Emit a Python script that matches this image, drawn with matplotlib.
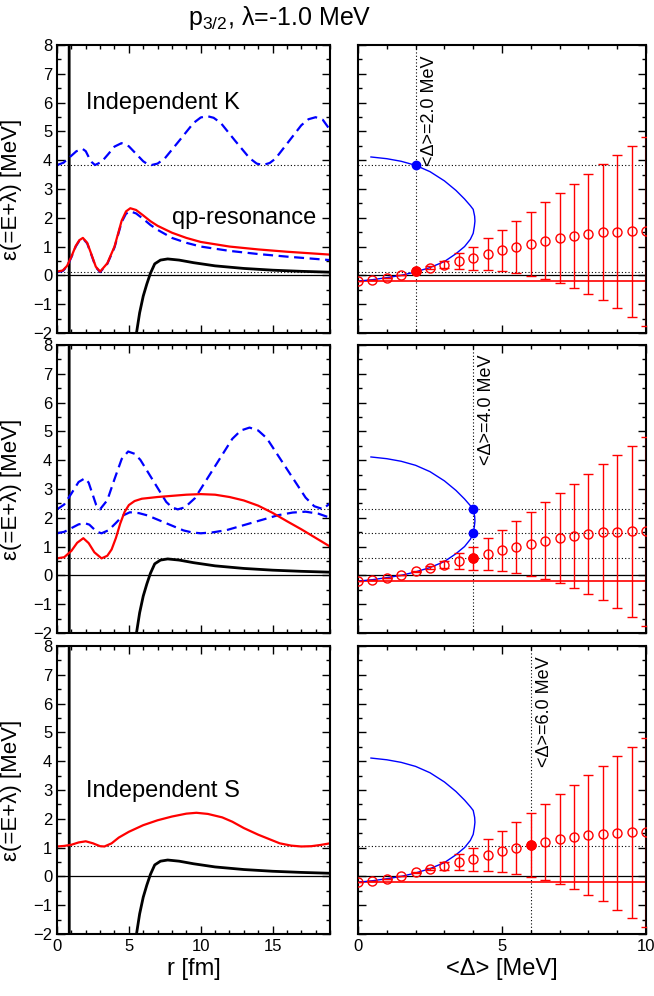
import matplotlib.pyplot as plt
from matplotlib.ticker import MultipleLocator

plt.rcParams['font.family'] = ['Liberation Sans', 'DejaVu Sans']
plt.rcParams['mathtext.fontset'] = 'custom'
plt.rcParams['mathtext.rm'] = 'Liberation Sans'
plt.rcParams['mathtext.it'] = 'Liberation Sans:italic'

# ---- left column: r-dependence ----
# potential (black), same in all three rows
r_pot = [0.83, 0.87, 5.3, 5.53, 5.75, 6.0, 6.25, 6.5, 6.8, 7.2, 7.7, 8.5, 9.5, 11, 13, 15, 17, 19]
v_pot = [30, -30, -4.5, -2.0, -1.3, -0.72, -0.3, 0.07, 0.4, 0.53, 0.57, 0.53, 0.44, 0.33, 0.24, 0.18, 0.14, 0.11]

# top row (Independent K / qp-resonance)
r_top_K = [0, 0.45, 0.9, 1.35, 1.78, 2.0, 2.2, 2.42, 2.64, 3.1, 3.55, 4.0, 4.49, 5.0, 5.5, 6.0, 6.3,
           6.58, 7.0, 7.5, 8.5, 9.5, 10.0, 10.44, 10.9, 11.4, 12.4, 13.4, 13.9, 14.33, 14.8, 15.2,
           16.1, 17.0, 17.5, 18.0, 18.5, 19.0]
v_top_K = [3.83, 3.91, 4.11, 4.31, 4.39, 4.31, 4.11, 3.93, 3.83, 3.94, 4.20, 4.47, 4.59, 4.48, 4.22, 3.96, 3.86,
           3.83, 3.88, 4.06, 4.67, 5.29, 5.48, 5.53, 5.47, 5.29, 4.67, 4.07, 3.88, 3.83, 3.90, 4.05,
           4.63, 5.21, 5.42, 5.49, 5.40, 5.05]
r_top_qp = [0, 0.4, 0.7, 1.0, 1.3, 1.55, 1.8, 2.1, 2.4, 2.7, 3.0, 3.5, 4.0, 4.5, 4.8, 5.1, 5.5, 6.0,
            6.5, 7.0, 8.0, 9.0, 10.0, 12.0, 14.0, 16.0, 19.0]
v_top_red = [0.13, 0.17, 0.33, 0.65, 1.02, 1.22, 1.3, 1.13, 0.72, 0.3, 0.13, 0.42, 1.0, 1.9, 2.22, 2.33, 2.27, 2.08,
             1.88, 1.72, 1.48, 1.3, 1.16, 1.0, 0.9, 0.82, 0.72]
v_top_blue = [0.11, 0.15, 0.31, 0.63, 1.0, 1.2, 1.28, 1.11, 0.7, 0.28, 0.11, 0.4, 0.97, 1.85, 2.14, 2.22, 2.15, 1.96,
              1.75, 1.58, 1.3, 1.13, 1.0, 0.85, 0.74, 0.65, 0.53]

# middle row
r_mid_K1 = [0, 0.5, 1.0, 1.5, 1.94, 2.2, 2.45, 2.72, 2.99, 3.5, 4.0, 4.5, 4.95, 5.4, 5.8, 6.7, 7.6, 8.0,
            8.4, 8.9, 9.6, 10.9, 12.2, 12.8, 13.4, 14.0, 14.6, 16.0, 17.3, 17.9, 18.5, 19.0]
v_mid_K1 = [2.29, 2.46, 2.84, 3.24, 3.37, 3.22, 2.85, 2.45, 2.29, 2.61, 3.34, 4.04, 4.30, 4.22, 4.01, 3.28, 2.55, 2.36,
            2.29, 2.36, 2.68, 3.71, 4.74, 5.03, 5.13, 5.03, 4.76, 3.69, 2.70, 2.40, 2.30, 2.50]
r_mid_K2 = [0, 0.5, 1.0, 1.5, 1.94, 2.25, 2.5, 2.8, 3.1, 3.6, 4.1, 4.6, 5.07, 5.7, 6.3, 7.5, 8.8, 9.4,
            10.0, 10.8, 11.8, 13.6, 15.4, 16.4, 17.3, 18.2, 19.0]
v_mid_K2 = [1.46, 1.51, 1.64, 1.77, 1.81, 1.76, 1.64, 1.51, 1.46, 1.57, 1.82, 2.08, 2.19, 2.16, 2.08, 1.83, 1.56, 1.49,
            1.46, 1.49, 1.57, 1.83, 2.09, 2.18, 2.21, 2.14, 2.0]
r_mid_red = [0, 0.5, 1.0, 1.4, 1.83, 2.2, 2.6, 3.1, 3.5, 3.8, 4.1, 4.4, 4.7, 5.0, 5.4, 5.9, 7.0, 8.0, 9.0,
             10.0, 11.0, 12.0, 13.0, 14.0, 15.0, 16.0, 17.0, 18.0, 19.0]
v_mid_red = [0.59, 0.63, 0.85, 1.13, 1.29, 1.12, 0.8, 0.59, 0.68, 0.9, 1.3, 1.8, 2.2, 2.44, 2.58, 2.66, 2.72, 2.76, 2.8,
             2.82, 2.8, 2.72, 2.6, 2.42, 2.17, 1.88, 1.6, 1.3, 1.0]

# bottom row (Independent S)
r_bot_red = [0, 0.5, 1.0, 1.5, 2.0, 2.5, 3.0, 3.3, 3.8, 4.3, 5.0, 6.0, 7.0, 8.0, 9.0, 9.7, 10.5, 11.5,
             12.2, 13.0, 14.0, 14.6, 15.5, 16.3, 17.0, 17.7, 18.3, 19.0]
v_bot_red = [1.04, 1.06, 1.1, 1.18, 1.22, 1.15, 1.05, 1.04, 1.15, 1.35, 1.55, 1.78, 1.95, 2.08, 2.18, 2.21, 2.17, 2.05,
             1.9, 1.68, 1.45, 1.33, 1.15, 1.07, 1.04, 1.05, 1.09, 1.15]

# ---- right column: <Delta>-dependence ----
d_blue = [0.45, 1.0, 1.5, 2.0, 2.5, 3.0, 3.4, 3.7, 3.9, 4.0, 4.05, 4.06, 4.04, 4.0, 3.9, 3.7, 3.4, 3.0,
          2.5, 2.0, 1.5, 1.0, 0.5, 0.0]
v_blue = [4.11, 4.05, 3.96, 3.82, 3.6, 3.28, 2.95, 2.65, 2.42, 2.29, 2.05, 1.88, 1.7, 1.46, 1.25, 1.0, 0.75, 0.48,
          0.27, 0.12, 0.0, -0.08, -0.15, -0.2]

d_circ = [0, 0.5, 1, 1.5, 2, 2.5, 3, 3.5, 4, 4.5, 5, 5.5, 6, 6.5, 7, 7.5, 8, 8.5, 9, 9.5, 10]
v_circ = [-0.2, -0.16, -0.08, 0.02, 0.14, 0.26, 0.37, 0.5, 0.6, 0.74, 0.87, 0.99, 1.08, 1.2, 1.29, 1.37,
          1.44, 1.49, 1.52, 1.53, 1.53]
e_circ = [0, 0, 0, 0, 0.02, 0.05, 0.13, 0.29, 0.4, 0.55, 0.72, 0.91, 1.11, 1.33, 1.56, 1.8,
          2.09, 2.36, 2.67, 2.96, 3.29]
red_level = -0.2

d_sel = [2.0, 4.0, 6.0]
blue_sel = [[3.82], [2.29, 1.46], []]
dotted_levels = [[3.82, 0.12], [2.29, 1.46, 0.6], [1.05]]
sel_labels = ['<Δ>=2.0 MeV', '<Δ>=4.0 MeV', '<Δ>=6.0 MeV']

fig = plt.figure(figsize=(6.54, 9.96), dpi=100)
bottoms = [0.6657, 0.3645, 0.0622]
h = 0.2892

dash = (4.5, 2.5)
dot = (0, (1, 2))


def style(ax, xmaj, xmin):
    ax.xaxis.set_major_locator(MultipleLocator(xmaj))
    ax.xaxis.set_minor_locator(MultipleLocator(xmin))
    ax.yaxis.set_major_locator(MultipleLocator(1))
    ax.yaxis.set_minor_locator(MultipleLocator(0.5))
    ax.tick_params(which='both', direction='in', top=True, right=True, labelsize=12, width=1)
    ax.tick_params(which='major', length=6)
    ax.tick_params(which='minor', length=3)
    for s in ax.spines.values():
        s.set_linewidth(1.5)


for i in range(3):
    axl = fig.add_axes([0.0872, bottoms[i], 0.4174, h])
    axr = fig.add_axes([0.5474, bottoms[i], 0.4404, h])

    # left panel
    axl.axhline(0, color='k', lw=0.9)
    for lv in dotted_levels[i]:
        axl.axhline(lv, color='k', lw=0.8, ls=dot)
    axl.plot(r_pot, v_pot, color='k', lw=2)
    if i == 0:
        axl.plot(r_top_K, v_top_K, color='#0000ff', lw=1.6, dashes=dash)
        axl.plot(r_top_qp, v_top_blue, color='#0000ff', lw=1.6, dashes=dash)
        axl.plot(r_top_qp, v_top_red, color='red', lw=1.6)
        axl.text(2.0, 6.0, 'Independent K', fontsize=17, va='center')
        axl.text(8.0, 2.0, 'qp-resonance', fontsize=17, va='center')
    elif i == 1:
        axl.plot(r_mid_K1, v_mid_K1, color='#0000ff', lw=1.6, dashes=dash)
        axl.plot(r_mid_K2, v_mid_K2, color='#0000ff', lw=1.6, dashes=dash)
        axl.plot(r_mid_red, v_mid_red, color='red', lw=1.6)
    else:
        axl.plot(r_bot_red, v_bot_red, color='red', lw=1.6)
        axl.text(2.0, 2.96, 'Independent S', fontsize=17, va='center')
    axl.set_xlim(0, 19)
    axl.set_ylim(-2, 8)
    style(axl, 5, 1)
    axl.set_ylabel('ε(=E+λ) [MeV]', fontsize=16)
    axl.yaxis.set_label_coords(-0.13, 0.5)
    if i < 2:
        axl.set_xticklabels([])
    else:
        axl.set_xlabel('r [fm]', fontsize=17, labelpad=3)

    # right panel
    axr.axhline(0, color='k', lw=0.9)
    axr.axhline(red_level, color='red', lw=1.2)
    for lv in dotted_levels[i]:
        axr.axhline(lv, color='k', lw=0.8, ls=dot)
    axr.axvline(d_sel[i], color='k', lw=0.8, ls=dot)
    axr.plot(d_blue, v_blue, color='#0000ff', lw=1.0)
    axr.errorbar(d_circ, v_circ, yerr=e_circ, fmt='o', mfc='none', mec='red', ecolor='red',
                 ms=6.5, mew=1.0, elinewidth=1.0, capsize=3.5, capthick=1.0, zorder=5)
    k = d_circ.index(d_sel[i])
    axr.plot([d_sel[i]], [v_circ[k]], 'o', color='red', ms=6.5, zorder=6)
    if blue_sel[i]:
        axr.plot([d_sel[i]] * len(blue_sel[i]), blue_sel[i], 'o', color='#0000ff', ms=6, zorder=6)
    axr.text(d_sel[i] + 0.47, 7.65, sel_labels[i], rotation=90, ha='center', va='top', fontsize=13)
    axr.set_xlim(0, 10)
    axr.set_ylim(-2, 8)
    style(axr, 5, 1)
    axr.set_yticklabels([])
    if i < 2:
        axr.set_xticklabels([])
    else:
        axr.set_xlabel('<Δ> [MeV]', fontsize=17, labelpad=3)

fig.text(0.428, 0.982, r'p$_{3/2}$, λ=-1.0 MeV', fontsize=18, ha='center', va='center')

fig.savefig('out.png', dpi=100)
